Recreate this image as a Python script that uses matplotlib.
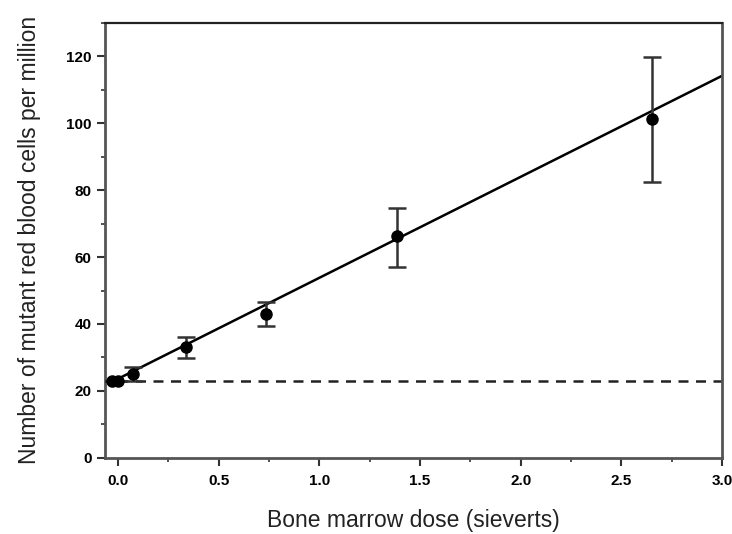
"""
Mutant red blood cell frequency against bone marrow dose, with linear fit
and background level.
"""
import numpy as np
import matplotlib
matplotlib.use("Agg")
import matplotlib.pyplot as plt
from matplotlib.ticker import MultipleLocator, FormatStrFormatter

plt.rcParams["font.family"] = ["Liberation Sans", "DejaVu Sans"]

# Measured dose groups (Sv) with mean mutant frequency and error bar limits
DOSE = [-0.03, 0.0, 0.076, 0.34, 0.735, 1.385, 2.65]
MUTANTS = [23.0, 23.0, 25.0, 33.2, 42.9, 66.3, 101.3]
ERR_LOW = [0.0, 0.0, 2.0, 3.3, 3.5, 9.3, 18.9]
ERR_HIGH = [0.0, 0.0, 2.0, 3.0, 3.7, 8.4, 18.4]

# Fitted line and background level
FIT_INTERCEPT = 23.6
FIT_SLOPE = 30.2
BACKGROUND = 23.0

X_LIMITS = (-0.065, 3.0)
Y_LIMITS = (0, 130)


def main():
    fig = plt.figure(figsize=(7.32, 5.34), dpi=100)
    ax = fig.add_axes([0.1434, 0.1429, 0.8429, 0.8140])

    fit_x = np.array([0.0, X_LIMITS[1]])
    ax.plot(fit_x, FIT_INTERCEPT + FIT_SLOPE * fit_x, color="black", linewidth=1.8, zorder=2)
    ax.plot([0.0, X_LIMITS[1]], [BACKGROUND, BACKGROUND], color="#222222",
            linewidth=1.8, linestyle=(0, (4, 3)), zorder=2)

    ax.errorbar(DOSE, MUTANTS, yerr=[ERR_LOW, ERR_HIGH], fmt="o", color="black",
                ecolor="#333333", elinewidth=1.8, capsize=6.5, capthick=1.8,
                markersize=8, zorder=3)

    ax.set_xlim(*X_LIMITS)
    ax.set_ylim(*Y_LIMITS)

    ax.xaxis.set_major_locator(MultipleLocator(0.5))
    ax.xaxis.set_minor_locator(MultipleLocator(0.25))
    ax.yaxis.set_major_locator(MultipleLocator(20))
    ax.yaxis.set_minor_locator(MultipleLocator(10))
    ax.xaxis.set_major_formatter(FormatStrFormatter("%.1f"))

    ax.tick_params(axis="both", which="major", direction="out", length=6, width=1.5,
                   color="#333333", labelsize=11)
    ax.tick_params(axis="both", which="minor", direction="out", length=3, width=1.2,
                   color="#333333")
    ax.tick_params(axis="x", pad=6)
    for lbl in ax.get_xticklabels() + ax.get_yticklabels():
        lbl.set_fontweight("bold")

    for side in ["left", "bottom", "right"]:
        ax.spines[side].set_linewidth(2.0)
        ax.spines[side].set_color("#555555")
    ax.spines["top"].set_linewidth(1.6)
    ax.spines["top"].set_color("#222222")

    ax.set_xlabel("Bone marrow dose (sieverts)", fontsize=16.5, labelpad=15, color="#222222")
    ax.set_ylabel("Number of mutant red blood cells per million", fontsize=16.5,
                  labelpad=18, color="#222222")

    fig.savefig("out.png", dpi=100)
    plt.close(fig)


if __name__ == "__main__":
    main()
